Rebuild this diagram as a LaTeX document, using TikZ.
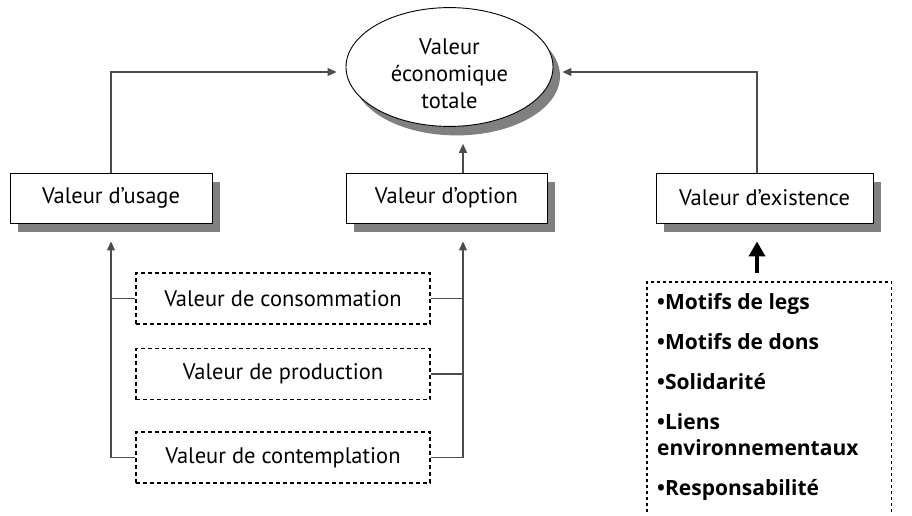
\documentclass[tikz,border=0pt]{standalone}
\usepackage{fontspec}
\setmainfont{PT Sans}
\newfontfamily\listfont{Open Sans}
\usetikzlibrary{shapes,arrows.meta,shadows,calc}

\begin{document}
\begin{tikzpicture}[x=1pt,y=-1pt,
  valbox/.style={draw, line width=0.9pt, fill=white, inner sep=0pt, minimum height=50pt,
    font=\fontsize{22.5}{26}\selectfont,
    drop shadow={shadow xshift=8pt, shadow yshift=-9pt, fill=gray, opacity=1}},
  subbox/.style={draw, line width=1.4pt, dash pattern=on 4pt off 3pt, inner sep=0pt,
    minimum width=294pt, minimum height=51pt, font=\fontsize{22.5}{26}\selectfont},
  link/.style={draw=black!70, line width=1.2pt},
  linkarrow/.style={link, -{Triangle[length=9pt,width=8pt]}, shorten >=9pt}]
\useasboundingbox (0,0) rectangle (912,515);

\node[ellipse, draw, line width=0.9pt, fill=white, minimum width=207pt, minimum height=110pt,
  inner sep=0pt, align=center, font=\fontsize{22.5}{27}\selectfont,
  drop shadow={shadow xshift=7pt, shadow yshift=-9pt, fill=gray, opacity=1}] (vet) at (449.5,67)
  {\raisebox{0pt}[\dimexpr\height+14pt]{Valeur}\\économique\\totale};

\node[valbox, minimum width=202pt] (usage) at (111,198) {Valeur d’usage};
\node[valbox, minimum width=201pt] (option) at (446.5,198) {Valeur d’option};
\node[valbox, minimum width=217pt] (exist) at (764.5,198) {Valeur d’existence};
\coordinate (otop) at ($(option.north)+(16.5,0)$);
\coordinate (obot) at ($(option.south)+(16.5,0)$);
\coordinate (etop) at ($(exist.north)+(-7.5,0)$);
\coordinate (ebot) at ($(exist.south)+(-7.5,0)$);

% vers la valeur totale
\draw[linkarrow] (usage.north) |- ($(vet.west)+(0,5)$);
\draw[linkarrow] (etop) |- ($(vet.east)+(0,5)$);
\draw[linkarrow, shorten >=17pt] (otop) -- (otop |- vet.south);

\node[subbox] (conso) at (283,298.5) {Valeur de consommation};
\node[subbox] (prod) at (283,374) {Valeur de production};
\node[subbox] (contemp) at (283,457.5) {Valeur de contemplation};

% usage
\draw[linkarrow, shorten >=18pt] (contemp.west) -| (usage.south);
\draw[link] (conso.west) -- (conso.west -| usage.south);
\draw[link] ($(prod.west)+(0,-9)$) -- ($(prod.west)+(0,-9)$ -| usage.south);

% option
\draw[linkarrow, shorten >=18pt] (contemp.east) -| (obot);
\draw[link] (conso.east) -- (conso.east -| obot);
\draw[link] (prod.east) -- (prod.east -| obot);

% existence
\node[anchor=north west, inner sep=0pt, minimum width=244pt, minimum height=230pt] (motifs) at (647,282) {};
\draw[line width=1.1pt, dash pattern=on 3pt off 3pt] (motifs.south west) -- (motifs.north west)
  -- (motifs.north east) -- (motifs.south east);
\node[anchor=north west, inner sep=0pt, align=left, font=\listfont\fontsize{21}{26}\bfseries\selectfont] (items)
  at ($(motifs.north west)+(10,11)$)
  {\textbullet Motifs de legs\\[14pt]
   \textbullet Motifs de dons\\[14pt]
   \textbullet Solidarité\\[14pt]
   \textbullet Liens\\
   environnementaux\\[14pt]
   \textbullet Responsabilité};
\draw[line width=4pt, -{Triangle[length=15pt,width=16pt]}, shorten >=18pt]
  ($(motifs.north west)+(110,-9)$) -- (ebot);
\end{tikzpicture}
\end{document}
